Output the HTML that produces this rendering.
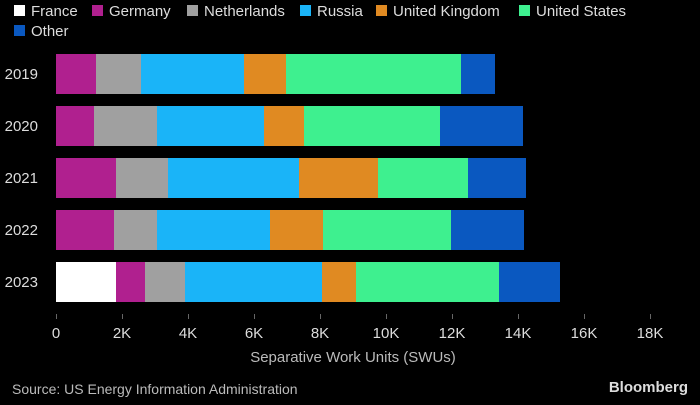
<!DOCTYPE html>
<html><head><style>
body{margin:0;background:#000;width:700px;height:400px;overflow:hidden;font-family:"Liberation Sans",sans-serif;}
</style></head><body>
<svg width="700" height="400" xmlns="http://www.w3.org/2000/svg" font-family="Liberation Sans, sans-serif">
<rect width="700" height="400" fill="#000"/>
<g font-size="15" fill="#ddd">
<rect x="14" y="5" width="11" height="11" fill="#fff"/><text x="31" y="16">France</text>
<rect x="92" y="5" width="11" height="11" fill="#b0208f"/><text x="109" y="16">Germany</text>
<rect x="187" y="5" width="11" height="11" fill="#a0a0a0"/><text x="204" y="16">Netherlands</text>
<rect x="300" y="5" width="11" height="11" fill="#1ab4f8"/><text x="317" y="16">Russia</text>
<rect x="376" y="5" width="11" height="11" fill="#e08a22"/><text x="393" y="16">United Kingdom</text>
<rect x="519" y="5" width="11" height="11" fill="#3ef08f"/><text x="536" y="16">United States</text>
<rect x="14" y="25" width="11" height="11" fill="#0a58c0"/><text x="31" y="36">Other</text>
</g>
<g font-size="15" fill="#ddd" text-anchor="end">
<text x="38" y="79">2019</text><text x="38" y="131">2020</text><text x="38" y="183">2021</text><text x="38" y="235">2022</text><text x="38" y="287">2023</text>
</g>
<g>
<!-- 2019 -->
<rect x="56" y="54" width="40" height="40" fill="#b0208f"/><rect x="96" y="54" width="45" height="40" fill="#a0a0a0"/><rect x="141" y="54" width="103" height="40" fill="#1ab4f8"/><rect x="244" y="54" width="42" height="40" fill="#e08a22"/><rect x="286" y="54" width="175" height="40" fill="#3ef08f"/><rect x="461" y="54" width="34" height="40" fill="#0a58c0"/>
<!-- 2020 -->
<rect x="56" y="106" width="38" height="40" fill="#b0208f"/><rect x="94" y="106" width="63" height="40" fill="#a0a0a0"/><rect x="157" y="106" width="107" height="40" fill="#1ab4f8"/><rect x="264" y="106" width="40" height="40" fill="#e08a22"/><rect x="304" y="106" width="136" height="40" fill="#3ef08f"/><rect x="440" y="106" width="83" height="40" fill="#0a58c0"/>
<!-- 2021 -->
<rect x="56" y="158" width="60" height="40" fill="#b0208f"/><rect x="116" y="158" width="52" height="40" fill="#a0a0a0"/><rect x="168" y="158" width="131" height="40" fill="#1ab4f8"/><rect x="299" y="158" width="79" height="40" fill="#e08a22"/><rect x="378" y="158" width="90" height="40" fill="#3ef08f"/><rect x="468" y="158" width="58" height="40" fill="#0a58c0"/>
<!-- 2022 -->
<rect x="56" y="210" width="58" height="40" fill="#b0208f"/><rect x="114" y="210" width="43" height="40" fill="#a0a0a0"/><rect x="157" y="210" width="113" height="40" fill="#1ab4f8"/><rect x="270" y="210" width="53" height="40" fill="#e08a22"/><rect x="323" y="210" width="128" height="40" fill="#3ef08f"/><rect x="451" y="210" width="73" height="40" fill="#0a58c0"/>
<!-- 2023 -->
<rect x="56" y="262" width="60" height="40" fill="#fff"/><rect x="116" y="262" width="29" height="40" fill="#b0208f"/><rect x="145" y="262" width="40" height="40" fill="#a0a0a0"/><rect x="185" y="262" width="137" height="40" fill="#1ab4f8"/><rect x="322" y="262" width="34" height="40" fill="#e08a22"/><rect x="356" y="262" width="143" height="40" fill="#3ef08f"/><rect x="499" y="262" width="61" height="40" fill="#0a58c0"/>
</g>
<g stroke="#666" stroke-width="1">
<line x1="56.5" y1="314" x2="56.5" y2="319"/><line x1="122.5" y1="314" x2="122.5" y2="319"/><line x1="188.5" y1="314" x2="188.5" y2="319"/><line x1="254.5" y1="314" x2="254.5" y2="319"/><line x1="320.5" y1="314" x2="320.5" y2="319"/><line x1="386.5" y1="314" x2="386.5" y2="319"/><line x1="452.5" y1="314" x2="452.5" y2="319"/><line x1="518.5" y1="314" x2="518.5" y2="319"/><line x1="584.5" y1="314" x2="584.5" y2="319"/><line x1="650.5" y1="314" x2="650.5" y2="319"/>
</g>
<g font-size="15" fill="#ddd" text-anchor="middle">
<text x="56" y="338">0</text><text x="122" y="338">2K</text><text x="188" y="338">4K</text><text x="254" y="338">6K</text><text x="320" y="338">8K</text><text x="386" y="338">10K</text><text x="452" y="338">12K</text><text x="518" y="338">14K</text><text x="584" y="338">16K</text><text x="650" y="338">18K</text>
<text x="353" y="362" fill="#bbb">Separative Work Units (SWUs)</text>
</g>
<text x="12" y="394" font-size="14" fill="#bbb">Source: US Energy Information Administration</text>
<text x="688" y="392" font-size="15" font-weight="bold" fill="#ddd" text-anchor="end">Bloomberg</text>
</svg>
</body></html>
